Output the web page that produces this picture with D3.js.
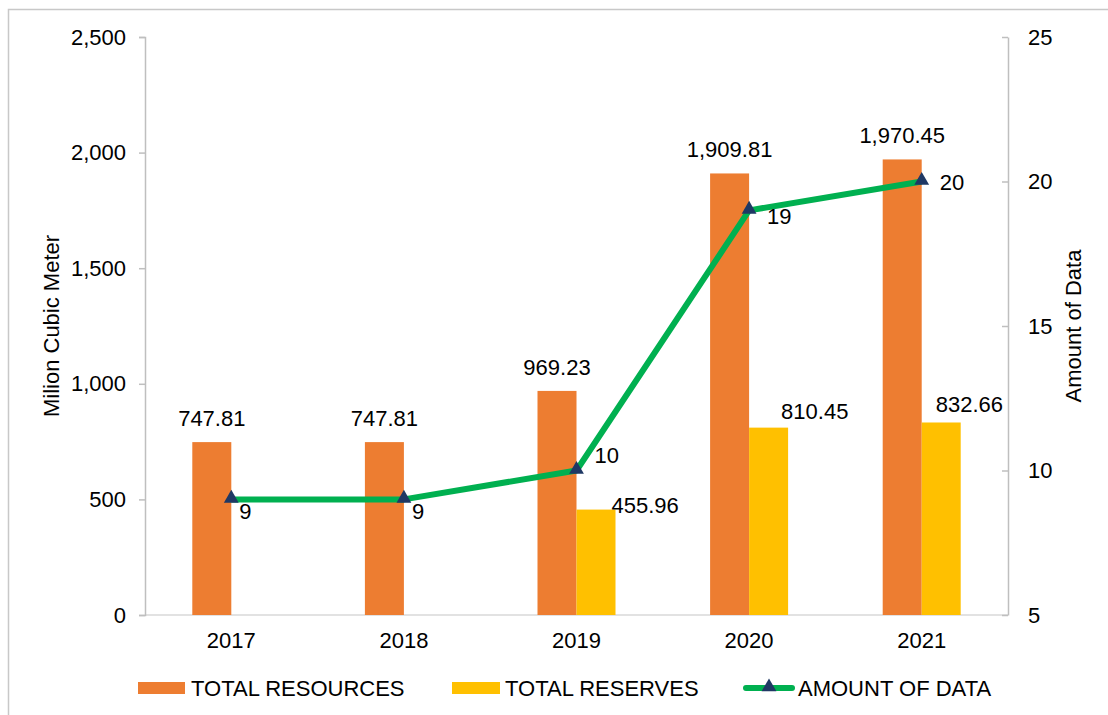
<!DOCTYPE html>
<html>
<head>
<meta charset="utf-8">
<script src="https://cdn.jsdelivr.net/npm/d3@7"></script>
<style>
  html, body { margin: 0; padding: 0; background: #fff; }
  svg { display: block; }
  text { font-family: "Liberation Sans", Arial, sans-serif; fill: #000; }
</style>
</head>
<body>
<svg id="chart" width="1108" height="715"></svg>
<script>
// Resource volumes (million m³) and number of data records per year
const years = ["2017", "2018", "2019", "2020", "2021"];
const totalResources = [747.81, 747.81, 969.23, 1909.81, 1970.45];
const totalReserves = [null, null, 455.96, 810.45, 832.66];
const amountOfData = [9, 9, 10, 19, 20];
const leftTicks = [0, 500, 1000, 1500, 2000, 2500];
const rightTicks = [5, 10, 15, 20, 25];
const seriesNames = ["TOTAL RESOURCES", "TOTAL RESERVES", "AMOUNT OF DATA"];

const colors = { resources: "#ED7D31", reserves: "#FFC000", line: "#00B050", marker: "#1F3864" };
const fontSize = 22;
// label nudges (pixels) for the line points and the reserve bars
const pointLabelDy = [20, 20, -8, 14, 8];
const reserveLabelDx = [35, 32, 14];
const reserveLabelDy = [3, -9, -10];

const svg = d3.select("#chart");
const W = 1108, H = 715;
const m = { left: 145, right: W - 1008, top: 37, bottom: H - 615 };

// Chart frame
svg.append("rect")
  .attr("x", 8.5).attr("y", 9.5)
  .attr("width", 1120).attr("height", 720)
  .attr("fill", "none").attr("stroke", "#c8c8c8").attr("stroke-width", 1.5);

const x = d3.scaleBand().domain(years).range([m.left, W - m.right]).paddingInner(0).paddingOuter(0);
const yL = d3.scaleLinear().domain([0, 2500]).range([H - m.bottom, m.top]);
const yR = d3.scaleLinear().domain([5, 25]).range([H - m.bottom, m.top]);
const barW = 39;
const fmt = d3.format(",.2f");

// Bottom baseline
svg.append("line")
  .attr("x1", m.left).attr("x2", W - m.right)
  .attr("y1", yL(0)).attr("y2", yL(0))
  .attr("stroke", "#d9d9d9").attr("stroke-width", 1.5);

// Left axis
const axL = svg.append("g").attr("transform", `translate(${m.left},0)`)
  .call(d3.axisLeft(yL).tickValues(leftTicks).tickFormat(d3.format(",")).tickSize(6).tickPadding(13));
axL.select(".domain").attr("stroke", "#bfbfbf").attr("stroke-width", 1.5);
axL.selectAll(".tick line").attr("stroke", "#bfbfbf").attr("stroke-width", 1.5);
axL.selectAll(".tick text").style("font-size", fontSize + "px").attr("fill", "#000");

// Right axis
const axR = svg.append("g").attr("transform", `translate(${W - m.right},0)`)
  .call(d3.axisRight(yR).tickValues(rightTicks).tickSize(0).tickPadding(20));
axR.select(".domain").attr("stroke", "#bfbfbf").attr("stroke-width", 1.5);
axR.selectAll(".tick text").style("font-size", fontSize + "px").attr("fill", "#000");
axR.selectAll(".tick").append("line").attr("x1", -6).attr("x2", 0)
  .attr("stroke", "#bfbfbf").attr("stroke-width", 1.5);

// Category labels
svg.append("g").selectAll("text").data(years).join("text")
  .attr("x", d => x(d) + x.bandwidth() / 2)
  .attr("y", yL(0) + 33)
  .attr("text-anchor", "middle")
  .style("font-size", fontSize + "px")
  .text(d => d);

// Axis titles
svg.append("text")
  .attr("transform", `translate(59,326) rotate(-90)`)
  .attr("text-anchor", "middle")
  .style("font-size", fontSize + "px")
  .text("Milion Cubic Meter");
svg.append("text")
  .attr("transform", `translate(1081,326) rotate(-90)`)
  .attr("text-anchor", "middle")
  .style("font-size", fontSize + "px")
  .text("Amount of Data");

// Bars
const cx = d => x(d) + x.bandwidth() / 2;
svg.append("g").selectAll("rect").data(years.map((y, i) => ({ y, v: totalResources[i] }))).join("rect")
  .attr("x", d => cx(d.y) - barW)
  .attr("y", d => yL(d.v))
  .attr("width", barW)
  .attr("height", d => yL(0) - yL(d.v))
  .attr("fill", colors.resources);

const reserveData = years.map((y, i) => ({ y, v: totalReserves[i] })).filter(d => d.v != null);
svg.append("g").selectAll("rect").data(reserveData).join("rect")
  .attr("x", d => cx(d.y))
  .attr("y", d => yL(d.v))
  .attr("width", barW)
  .attr("height", d => yL(0) - yL(d.v))
  .attr("fill", colors.reserves);

// Bar value labels
svg.append("g").selectAll("text").data(years.map((y, i) => ({ y, v: totalResources[i] }))).join("text")
  .attr("x", d => cx(d.y) - barW / 2)
  .attr("y", d => yL(d.v) - 16)
  .attr("text-anchor", "middle")
  .style("font-size", fontSize + "px")
  .text(d => fmt(d.v));

svg.append("g").selectAll("text").data(reserveData).join("text")
  .attr("x", (d, i) => cx(d.y) + reserveLabelDx[i])
  .attr("y", (d, i) => yL(d.v) + reserveLabelDy[i])
  .attr("text-anchor", "start")
  .style("font-size", fontSize + "px")
  .text(d => fmt(d.v));

// Amount-of-data line with triangle markers
const pts = years.map((y, i) => ({ y, v: amountOfData[i] }));
svg.append("path")
  .datum(pts)
  .attr("fill", "none")
  .attr("stroke", colors.line)
  .attr("stroke-width", 6)
  .attr("stroke-linejoin", "round")
  .attr("d", d3.line().x(d => cx(d.y)).y(d => yR(d.v)));

const tri = d3.symbol().type(d3.symbolTriangle).size(95);
svg.append("g").selectAll("path").data(pts).join("path")
  .attr("transform", d => `translate(${cx(d.y)},${yR(d.v) - 1})`)
  .attr("d", tri)
  .attr("fill", colors.marker);

svg.append("g").selectAll("text").data(pts).join("text")
  .attr("x", (d, i) => cx(d.y) + (i < 2 ? 8 : 18))
  .attr("y", (d, i) => yR(d.v) + pointLabelDy[i])
  .attr("text-anchor", "start")
  .style("font-size", fontSize + "px")
  .text(d => d.v);

// Legend
const lg = svg.append("g").attr("transform", "translate(0,688)");
lg.append("rect").attr("x", 138).attr("y", -6).attr("width", 47).attr("height", 12).attr("fill", colors.resources);
lg.append("text").attr("x", 191).attr("y", 8).style("font-size", fontSize + "px").text(seriesNames[0]);
lg.append("rect").attr("x", 452).attr("y", -6).attr("width", 48).attr("height", 12).attr("fill", colors.reserves);
lg.append("text").attr("x", 505).attr("y", 8).style("font-size", fontSize + "px").text(seriesNames[1]);
lg.append("line").attr("x1", 746).attr("x2", 792).attr("y1", 0).attr("y2", 0)
  .attr("stroke", colors.line).attr("stroke-width", 6).attr("stroke-linecap", "round");
lg.append("path").attr("transform", "translate(769,-1)").attr("d", tri).attr("fill", colors.marker);
lg.append("text").attr("x", 798).attr("y", 8).style("font-size", fontSize + "px").text(seriesNames[2]);
</script>
</body>
</html>
